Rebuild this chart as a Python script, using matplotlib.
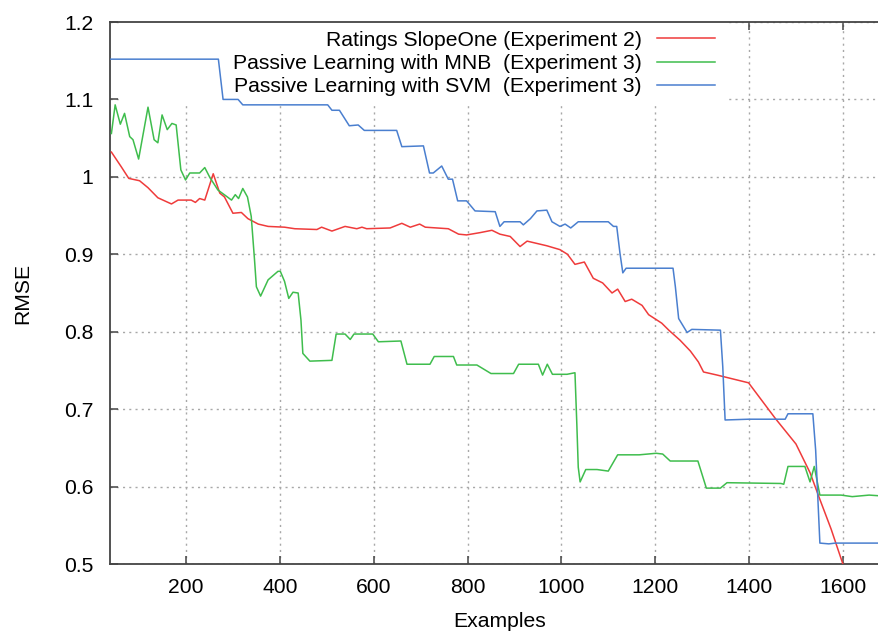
import matplotlib
matplotlib.use("Agg")
import matplotlib.pyplot as plt
from matplotlib.patches import Rectangle
from matplotlib.ticker import FuncFormatter

plt.rcParams['font.family'] = ['Liberation Sans', 'DejaVu Sans']

# ---------------- data ----------------
red_x = [41, 62, 78, 101, 119, 140, 169, 183, 211, 220, 229, 240, 258, 272, 282, 300, 318, 332,
         354, 375, 410, 432, 479, 489, 511, 539, 564, 575, 585, 635, 660, 678, 698, 710, 759,
         781, 798, 827, 852, 869, 891, 912, 927, 969, 997, 1013, 1029, 1049, 1068, 1088, 1108,
         1120, 1136, 1150, 1172, 1186, 1214, 1229, 1253, 1275, 1292, 1303, 1332, 1399, 1456,
         1500, 1530, 1550, 1575, 1600]
red_y = [1.032, 1.013, 0.998, 0.995, 0.986, 0.973, 0.965, 0.970, 0.970, 0.967, 0.972, 0.970,
         1.004, 0.979, 0.974, 0.953, 0.954, 0.946, 0.939, 0.936, 0.935, 0.933, 0.932, 0.935,
         0.930, 0.936, 0.933, 0.935, 0.933, 0.934, 0.940, 0.935, 0.939, 0.935, 0.933, 0.926,
         0.925, 0.928, 0.931, 0.926, 0.923, 0.910, 0.917, 0.911, 0.906, 0.900, 0.887, 0.890,
         0.869, 0.863, 0.850, 0.855, 0.839, 0.842, 0.834, 0.822, 0.811, 0.802, 0.789, 0.775,
         0.761, 0.748, 0.744, 0.734, 0.688, 0.655, 0.618, 0.585, 0.545, 0.500]

green_x = [41, 49, 60, 69, 80, 87, 99, 119, 132, 140, 149, 160, 170, 179, 189, 199, 208, 229,
           240, 251, 268, 286, 297, 305, 312, 321, 331, 339, 346, 350, 359, 375, 396, 401, 410,
           419, 428, 439, 445, 449, 464, 511, 520, 539, 550, 558, 598, 610, 658, 671, 720, 729,
           770, 777, 820, 850, 898, 909, 951, 960, 970, 981, 1012, 1029, 1033, 1036, 1040, 1052,
           1076, 1100, 1120, 1166, 1202, 1216, 1232, 1291, 1309, 1339, 1353, 1468, 1474, 1483,
           1519, 1530, 1539, 1551, 1596, 1620, 1656, 1680]
green_y = [1.056, 1.093, 1.068, 1.082, 1.052, 1.048, 1.023, 1.090, 1.048, 1.044, 1.080, 1.061,
           1.069, 1.067, 1.009, 0.996, 1.005, 1.005, 1.012, 0.999, 0.983, 0.975, 0.970, 0.977,
           0.972, 0.985, 0.974, 0.949, 0.893, 0.858, 0.846, 0.867, 0.878, 0.878, 0.865, 0.843,
           0.851, 0.850, 0.815, 0.772, 0.762, 0.763, 0.797, 0.797, 0.790, 0.797, 0.797, 0.787,
           0.788, 0.758, 0.758, 0.768, 0.768, 0.757, 0.757, 0.746, 0.746, 0.758, 0.758, 0.744,
           0.758, 0.745, 0.745, 0.747, 0.680, 0.625, 0.606, 0.622, 0.622, 0.620, 0.641, 0.641,
           0.643, 0.642, 0.633, 0.633, 0.598, 0.598, 0.605, 0.604, 0.603, 0.626, 0.626, 0.606,
           0.626, 0.589, 0.589, 0.587, 0.589, 0.588]

blue_x = [40, 269, 279, 311, 321, 502, 511, 527, 548, 567, 580, 649, 660, 706, 719, 727, 745,
          759, 768, 779, 798, 816, 859, 869, 878, 912, 919, 934, 948, 969, 980, 997, 1008, 1020,
          1036, 1100, 1111, 1118, 1125, 1131, 1138, 1238, 1243, 1250, 1268, 1278, 1339, 1344,
          1349, 1399, 1477, 1483, 1536, 1542, 1551, 1570, 1584, 1680]
blue_y = [1.152, 1.152, 1.100, 1.100, 1.093, 1.093, 1.086, 1.086, 1.066, 1.067, 1.060, 1.060,
          1.039, 1.040, 1.005, 1.005, 1.014, 0.997, 0.997, 0.969, 0.969, 0.956, 0.955, 0.936,
          0.942, 0.942, 0.938, 0.946, 0.956, 0.957, 0.942, 0.936, 0.939, 0.934, 0.942, 0.942,
          0.936, 0.936, 0.901, 0.876, 0.882, 0.882, 0.858, 0.817, 0.799, 0.803, 0.802, 0.755,
          0.686, 0.687, 0.687, 0.694, 0.694, 0.647, 0.527, 0.526, 0.527, 0.527]

labels = ["Ratings SlopeOne (Experiment 2)",
          "Passive Learning with MNB  (Experiment 3)",
          "Passive Learning with SVM  (Experiment 3)"]
x_ticks = [200, 400, 600, 800, 1000, 1200, 1400, 1600]
y_ticks = [0.5, 0.6, 0.7, 0.8, 0.9, 1.0, 1.1, 1.2]

# ---------------- figure ----------------
fig = plt.figure(figsize=(8.79, 6.33), dpi=100)
ax = fig.add_axes([110/879, 1 - 564/633, 1 - 110/879, (564 - 22)/633])

FS = 15.2
ax.plot(red_x, red_y, color='#ef3b3b', lw=1.1, label=labels[0], zorder=3)
ax.plot(green_x, green_y, color='#3fbd4d', lw=1.1, label=labels[1], zorder=3)
ax.plot(blue_x, blue_y, color='#4a7fcf', lw=1.1, label=labels[2], zorder=3)

ax.set_xlim(38, 1677)
ax.set_ylim(0.5, 1.2)
ax.set_xticks(x_ticks)
ax.set_yticks(y_ticks)
ax.yaxis.set_major_formatter(FuncFormatter(lambda v, p: f"{v:g}"))

ax.set_axisbelow(True)
ax.grid(True, color='#a8a8a8', lw=1.0, linestyle=(0, (1.5, 3)))

for s in ['left', 'bottom', 'top']:
    ax.spines[s].set_color('#444444')
    ax.spines[s].set_linewidth(1.3)
ax.spines['right'].set_visible(False)

ax.tick_params(axis='both', direction='in', length=6, width=1.1, color='#444444',
               labelsize=FS, top=True, right=False)
ax.tick_params(axis='y', pad=12)
ax.tick_params(axis='x', pad=10)

ax.set_xlabel("Examples", fontsize=FS)
ax.xaxis.set_label_coords(0.5065, -0.107, transform=ax.transAxes)
ax.xaxis.label.set_va('center')
ax.set_ylabel("RMSE", fontsize=FS)
ax.yaxis.set_label_coords(-0.114, 0.5, transform=ax.transAxes)
ax.yaxis.label.set_va('center')

# opaque key area (hides grid behind key, as in the original)
ax.add_patch(Rectangle((0.017, 0.851), 0.785, 0.16, transform=ax.transAxes,
                       facecolor='white', edgecolor='none', zorder=1.5, clip_on=False))

leg = ax.legend(loc='upper right', bbox_to_anchor=(0.787, 0.984), frameon=False,
                markerfirst=False, fontsize=FS, handlelength=2.75, handletextpad=0.72,
                labelspacing=0.2, borderpad=0.0, borderaxespad=0.0)
leg.set_zorder(2)

fig.savefig("out.png", dpi=100)
